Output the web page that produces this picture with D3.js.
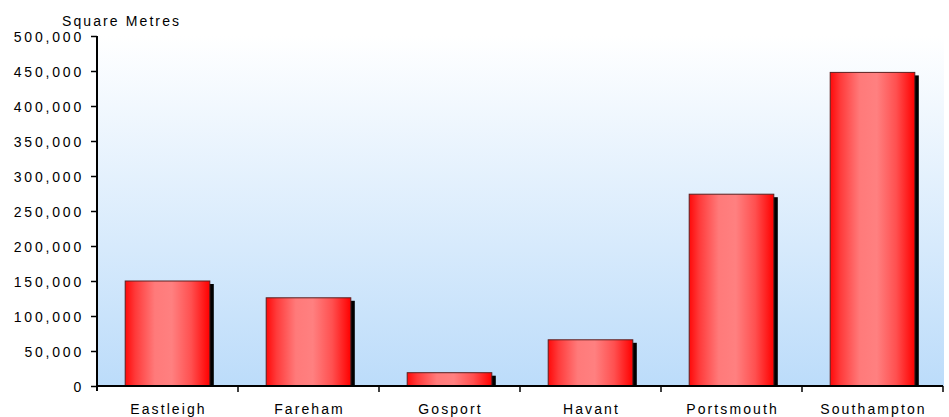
<!DOCTYPE html>
<html>
<head>
<meta charset="utf-8">
<script src="https://cdn.jsdelivr.net/npm/d3@7"></script>
<style>
  html, body { margin: 0; padding: 0; background: #fff; }
  svg text { font-family: "Liberation Sans", Arial, sans-serif; fill: #000; }
</style>
</head>
<body>
<svg id="chart" width="949" height="417"></svg>
<script>
// Floorspace by district (square metres)
const districts = ["Eastleigh", "Fareham", "Gosport", "Havant", "Portsmouth", "Southampton"];
const floorspace = [150000, 126000, 19000, 66000, 274000, 448000];
const yTicks = [0, 50000, 100000, 150000, 200000, 250000, 300000, 350000, 400000, 450000, 500000];
const yTitle = "Square Metres";

const svg = d3.select("#chart");
const plot = { left: 97, right: 943, top: 36, bottom: 386 };
const fontSize = "14px";
const spacing = "2.1px";

const x = d3.scaleBand()
  .domain(districts)
  .range([plot.left, plot.right])
  .paddingInner(0.4)
  .paddingOuter(0.2);

const y = d3.scaleLinear()
  .domain([0, 500000])
  .range([plot.bottom, plot.top]);

const defs = svg.append("defs");

const bg = defs.append("linearGradient")
  .attr("id", "bgGrad").attr("x1", 0).attr("y1", 0).attr("x2", 0).attr("y2", 1);
bg.append("stop").attr("offset", "0%").attr("stop-color", "#ffffff");
bg.append("stop").attr("offset", "100%").attr("stop-color", "#bcdcfa");

const barGrad = defs.append("linearGradient")
  .attr("id", "barGrad").attr("x1", 0).attr("y1", 0).attr("x2", 1).attr("y2", 0);
[["0%", "#ff0a0a"], ["12%", "#ff3a3a"], ["35%", "#ff7a7a"], ["55%", "#ff8080"], ["78%", "#ff5050"], ["100%", "#ff0000"]]
  .forEach(([o, c]) => barGrad.append("stop").attr("offset", o).attr("stop-color", c));

// plot background
svg.append("rect")
  .attr("x", plot.left).attr("y", plot.top)
  .attr("width", plot.right - plot.left + 1)
  .attr("height", plot.bottom - plot.top)
  .attr("fill", "url(#bgGrad)");

// bar shadows
svg.append("g").selectAll("rect")
  .data(floorspace)
  .join("rect")
  .attr("x", (d, i) => x(districts[i]) + 4)
  .attr("y", d => y(d) + 3)
  .attr("width", x.bandwidth())
  .attr("height", d => plot.bottom - y(d) - 3)
  .attr("fill", "#000");

// bars
svg.append("g").selectAll("rect")
  .data(floorspace)
  .join("rect")
  .attr("x", (d, i) => x(districts[i]))
  .attr("y", d => y(d))
  .attr("width", x.bandwidth())
  .attr("height", d => plot.bottom - y(d))
  .attr("fill", "url(#barGrad)")
  .attr("stroke", "#5a2020")
  .attr("stroke-width", 1);

// y axis
const yAxis = d3.axisLeft(y)
  .tickValues(yTicks)
  .tickSize(6)
  .tickPadding(7)
  .tickFormat(d3.format(","));
const gy = svg.append("g")
  .attr("transform", `translate(${plot.left},0)`)
  .call(yAxis);
gy.select(".domain").attr("stroke", "#000").attr("stroke-width", 2)
  .attr("d", `M0,${plot.top}V${plot.bottom + 5}`);
gy.selectAll(".tick line").attr("stroke", "#000").attr("stroke-width", 1.5);
gy.selectAll(".tick text")
  .style("font-size", fontSize)
  .style("letter-spacing", "2.8px")
  .attr("dy", "0.36em");

// x axis with ticks at category boundaries
const gx = svg.append("g")
  .attr("transform", `translate(0,${plot.bottom})`);
gx.append("line")
  .attr("x1", plot.left).attr("x2", plot.right)
  .attr("stroke", "#000").attr("stroke-width", 2);
const step = x.step();
gx.selectAll("line.bound")
  .data(districts)
  .join("line")
  .attr("class", "bound")
  .attr("x1", d => x(d) + x.bandwidth() / 2 + step / 2)
  .attr("x2", d => x(d) + x.bandwidth() / 2 + step / 2)
  .attr("y1", 0).attr("y2", 6)
  .attr("stroke", "#000").attr("stroke-width", 1.5);
gx.selectAll("text")
  .data(districts)
  .join("text")
  .attr("x", d => x(d) + x.bandwidth() / 2 + 1)
  .attr("y", 28)
  .attr("text-anchor", "middle")
  .style("font-size", fontSize)
  .style("letter-spacing", spacing)
  .text(d => d);

// axis title
svg.append("text")
  .attr("x", 62).attr("y", 26)
  .style("font-size", fontSize)
  .style("letter-spacing", spacing)
  .text(yTitle);
</script>
</body>
</html>
